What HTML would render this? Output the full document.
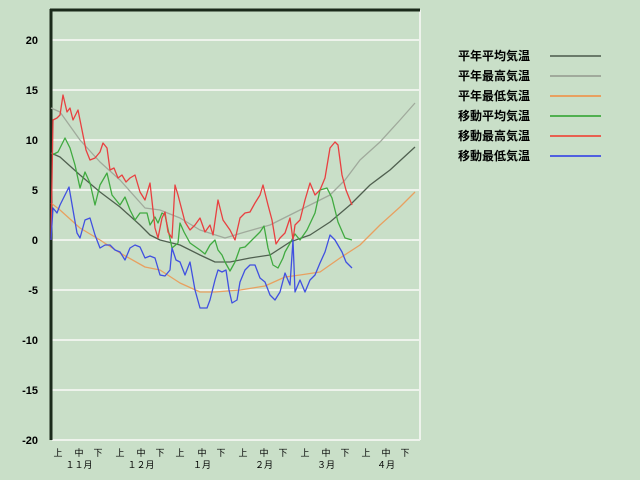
<!DOCTYPE html>
<html><head><meta charset="utf-8"><style>
body{margin:0;background:#c9dfc8;}
svg{display:block;font-family:"Liberation Sans","Noto Sans CJK JP",sans-serif;}
</style></head><body>
<svg width="640" height="480" viewBox="0 0 640 480">
<rect width="640" height="480" fill="#c9dfc8"/>
<g stroke="#eef3ec" stroke-width="2">
<line x1="52" y1="40" x2="420" y2="40"/><line x1="52" y1="90" x2="420" y2="90"/>
<line x1="52" y1="140" x2="420" y2="140"/><line x1="52" y1="190" x2="420" y2="190"/>
<line x1="52" y1="240" x2="420" y2="240"/><line x1="52" y1="290" x2="420" y2="290"/>
<line x1="52" y1="340" x2="420" y2="340"/><line x1="52" y1="390" x2="420" y2="390"/>
<line x1="52" y1="440" x2="420" y2="440"/><line x1="420" y1="10" x2="420" y2="440"/>
</g>
<line x1="51" y1="9" x2="51" y2="440" stroke="#1a2a1a" stroke-width="3"/>
<line x1="50" y1="10" x2="420" y2="10" stroke="#1a2a1a" stroke-width="3"/>
<g font-size="11" font-weight="bold" fill="#000" text-anchor="end">
<text x="38" y="44">20</text><text x="38" y="94">15</text><text x="38" y="144">10</text>
<text x="38" y="194">5</text><text x="38" y="244">0</text><text x="38" y="294">-5</text>
<text x="38" y="344">-10</text><text x="38" y="394">-15</text><text x="38" y="444">-20</text>
</g>
<g font-size="9" fill="#000" text-anchor="middle">
<text x="58" y="456">上</text><text x="79" y="456">中</text><text x="98" y="456">下</text>
<text x="120" y="456">上</text><text x="141" y="456">中</text><text x="160" y="456">下</text>
<text x="180" y="456">上</text><text x="202" y="456">中</text><text x="221" y="456">下</text>
<text x="243" y="456">上</text><text x="264" y="456">中</text><text x="283" y="456">下</text>
<text x="305" y="456">上</text><text x="326" y="456">中</text><text x="345" y="456">下</text>
<text x="366" y="456">上</text><text x="386" y="456">中</text><text x="405" y="456">下</text>
<text x="79" y="468">１１月</text><text x="141" y="468">１２月</text><text x="202" y="468">１月</text>
<text x="264" y="468">２月</text><text x="326" y="468">３月</text><text x="386" y="468">４月</text>
</g>
<g fill="none" stroke-width="1.3" stroke-linejoin="round">
<polyline stroke="#a0aa9c" points="51,108 60,112 80,140 100,162 120,180 145,208 160,210 180,218 200,230 225,238 245,232 270,225 300,210 330,195 345,180 360,160 380,142 400,120 415,103"/>
<polyline stroke="#e8a060" points="51,203 60,210 80,228 100,240 120,253 145,267 160,270 180,283 200,292 215,292 240,290 265,286 285,277 300,275 320,272 340,258 360,245 380,225 400,207 415,192"/>
<polyline stroke="#506050" points="51,153 60,157 80,175 100,192 120,207 140,225 150,235 160,240 180,245 200,255 215,262 230,262 250,258 270,255 290,242 310,235 330,222 350,205 370,185 390,170 415,147"/>
<polyline stroke="#40aa40" points="52,155 58,152 65,138 70,148 75,165 80,188 85,172 90,183 95,205 100,185 107,173 112,195 120,205 125,197 130,210 135,220 140,213 147,213 150,225 155,217 158,223 162,213 165,215 172,248 178,243 180,223 184,232 190,243 200,250 205,254 210,245 215,240 218,250 222,255 225,262 230,271 235,262 240,248 245,247 250,242 255,237 260,232 264,226 268,248 273,265 278,268 283,258 285,252 289,245 295,234 300,240 307,230 315,213 320,190 327,188 332,198 338,222 345,238 352,240"/>
<polyline stroke="#e84040" points="51,240 53,120 57,118 60,115 63,95 67,112 70,108 73,120 78,110 82,130 86,150 90,160 95,158 100,152 103,143 107,148 110,170 114,168 118,178 122,175 126,182 130,178 135,175 140,192 145,200 150,183 155,228 158,238 162,218 165,212 168,232 172,238 175,185 178,195 185,222 190,230 195,225 200,218 205,232 210,225 213,235 218,200 223,220 230,230 235,240 240,218 245,213 250,212 255,203 260,195 263,185 268,205 272,220 276,244 280,238 285,233 290,218 293,240 295,225 300,220 305,200 310,183 315,195 320,190 325,178 330,148 335,142 338,145 342,175 346,190 352,205"/>
<polyline stroke="#4050e0" points="51,240 53,208 57,213 60,205 65,195 69,187 73,210 77,233 80,238 85,220 90,218 95,235 100,248 105,245 110,245 115,250 120,252 125,260 130,248 135,245 140,247 145,258 150,256 155,258 160,275 165,276 170,270 172,248 176,260 180,262 185,275 190,262 195,290 200,308 207,308 210,300 215,280 218,270 222,272 226,270 229,290 232,303 237,300 240,282 245,270 250,265 255,265 260,278 265,282 270,295 275,300 280,292 285,273 290,285 293,240 295,292 300,280 305,292 310,280 315,275 320,263 325,252 330,235 335,240 342,252 346,262 352,268"/>
</g>
<g font-size="12" font-weight="bold" fill="#000">
<text x="458" y="60">平年平均気温</text><text x="458" y="80">平年最高気温</text>
<text x="458" y="100">平年最低気温</text><text x="458" y="120">移動平均気温</text>
<text x="458" y="140">移動最高気温</text><text x="458" y="160">移動最低気温</text>
</g>
<g stroke-width="2">
<line x1="550" y1="56" x2="601" y2="56" stroke="#6a7a6a"/>
<line x1="550" y1="76" x2="601" y2="76" stroke="#a0aa9c"/>
<line x1="550" y1="96" x2="601" y2="96" stroke="#e8a060"/>
<line x1="550" y1="116" x2="601" y2="116" stroke="#50b050"/>
<line x1="550" y1="136" x2="601" y2="136" stroke="#e86050"/>
<line x1="550" y1="156" x2="601" y2="156" stroke="#5060e0"/>
</g>
</svg>
</body></html>
